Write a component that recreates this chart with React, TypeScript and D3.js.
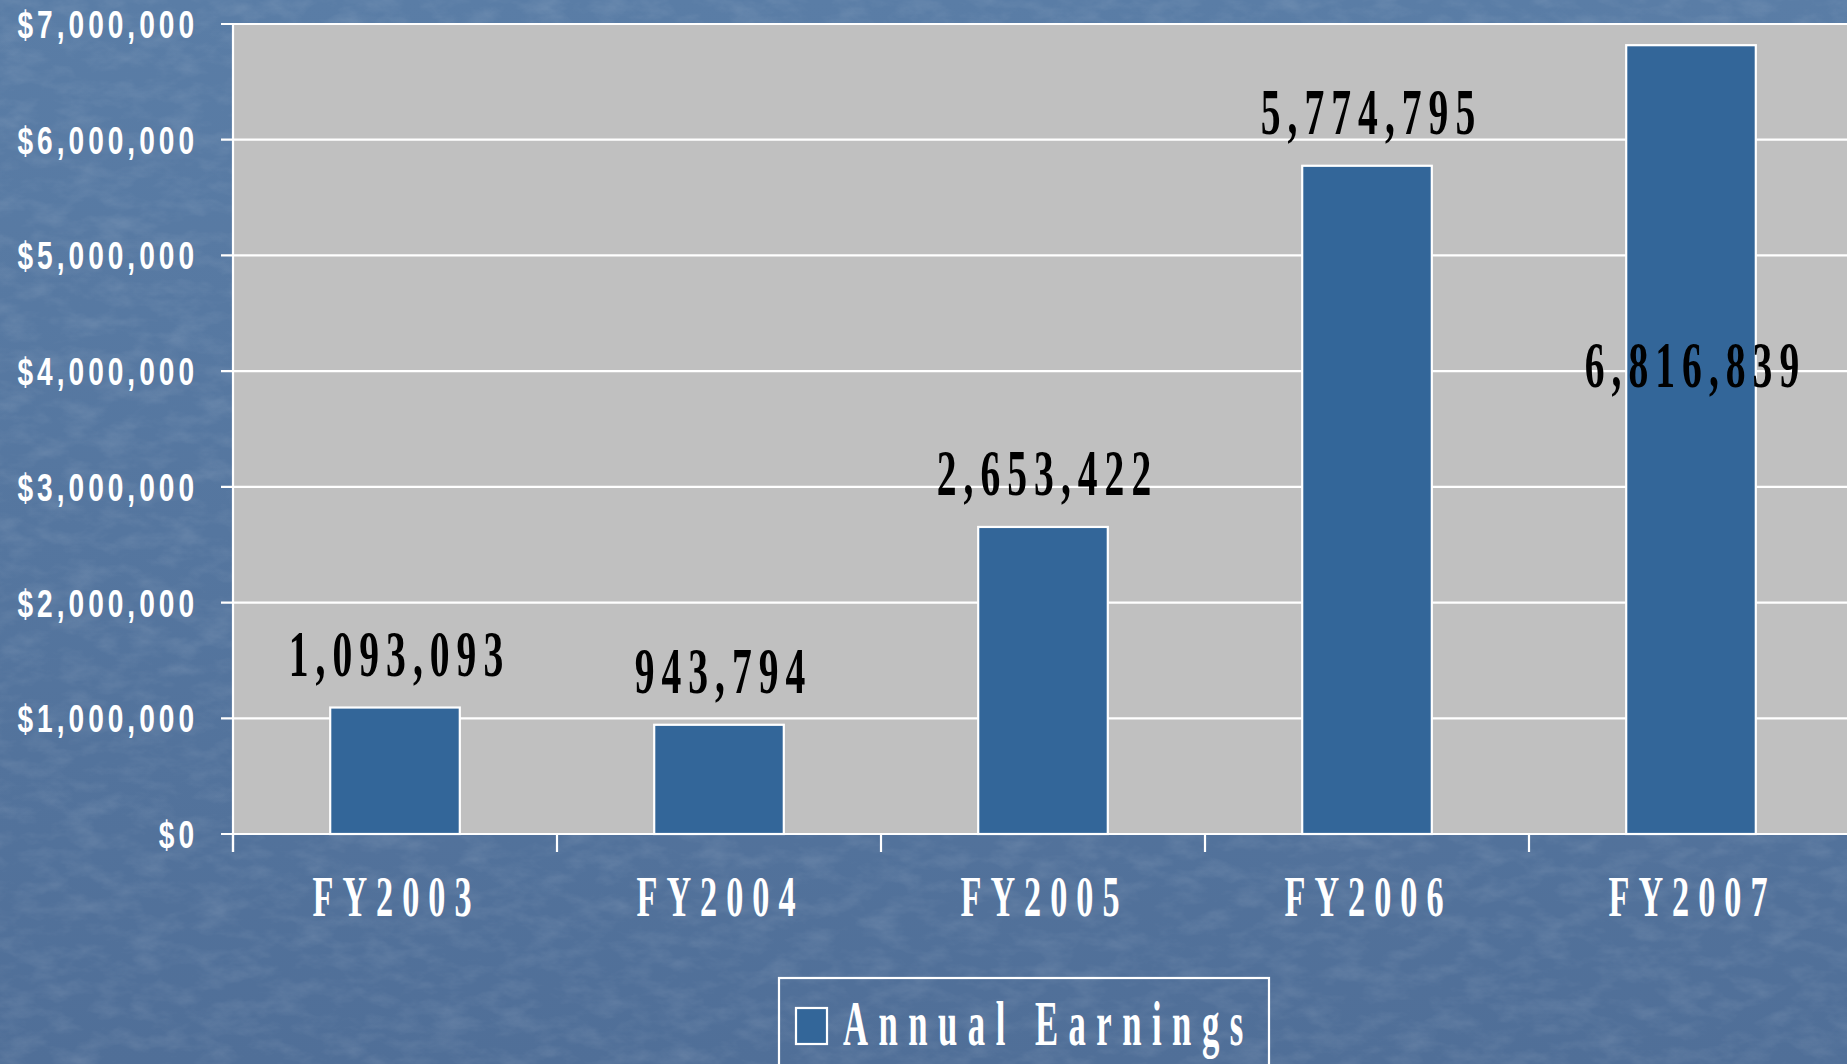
import React from "react";
import * as d3 from "d3";

const categories = ["FY2003", "FY2004", "FY2005", "FY2006", "FY2007"];
const earnings = [1093093, 943794, 2653422, 5774795, 6816839];
const yTicks = [0, 1000000, 2000000, 3000000, 4000000, 5000000, 6000000, 7000000];
const seriesName = "Annual Earnings";

const W = 1847;
const H = 1064;
const plotLeft = 233;
const plotTop = 24;
const plotBottom = 834;
const step = 324;

const BAR = "#336699";
const SERIF = "'Liberation Serif', 'Times New Roman', serif";
const SANS = "'Liberation Sans', Arial, sans-serif";

function CondText(props: {
  x: number; y: number; sx: number; ls: number; anchor?: string;
  size: number; family: string; fill: string; weight?: string; children: any;
}) {
  const { x, y, sx, ls, anchor = "start", size, family, fill, weight = "bold", children } = props;
  const lsPre = ls / sx;
  let dx = 0;
  if (anchor === "middle") dx = lsPre / 2;
  if (anchor === "end") dx = lsPre;
  return (
    <g transform={`translate(${x},${y}) scale(${sx},1)`}>
      <text
        x={dx}
        y={0}
        textAnchor={anchor}
        fontFamily={family}
        fontSize={size}
        fontWeight={weight}
        fill={fill}
        letterSpacing={lsPre}
      >
        {children}
      </text>
    </g>
  );
}

export default function App() {
  const x = d3
    .scaleBand<string>()
    .domain(categories)
    .range([plotLeft, plotLeft + step * categories.length])
    .padding(0);
  const y = d3.scaleLinear().domain([0, 7000000]).range([plotBottom, plotTop]);
  const fmtAxis = d3.format("$,");
  const fmtLabel = d3.format(",");
  const bw = x.bandwidth();
  const barW = bw * 0.4;

  return (
    <svg
      width={W}
      height={H}
      style={{ position: "absolute", left: 0, top: 0, display: "block" }}
    >
      <defs>
        <linearGradient id="bg" x1="0" y1="0" x2="0" y2="1">
          <stop offset="0" stopColor="#5a7da6" />
          <stop offset="1" stopColor="#506f98" />
        </linearGradient>
        <filter id="noise" x="0" y="0" width="100%" height="100%">
          <feTurbulence type="fractalNoise" baseFrequency="0.03 0.06" numOctaves="4" seed="7" />
          <feColorMatrix
            type="matrix"
            values="0 0 0 0 1  0 0 0 0 1  0 0 0 0 1  0.8 0 0 0 -0.33"
          />
        </filter>
      </defs>
      <rect x={0} y={0} width={W} height={H} fill="url(#bg)" />
      <rect x={0} y={0} width={W} height={H} filter="url(#noise)" opacity={0.25} />

      {/* plot area */}
      <rect
        x={plotLeft}
        y={plotTop}
        width={step * categories.length}
        height={plotBottom - plotTop}
        fill="#c0c0c0"
      />
      {/* gridlines */}
      {yTicks.map((t) => (
        <line
          key={"g" + t}
          x1={plotLeft - 12}
          x2={W + 10}
          y1={y(t)}
          y2={y(t)}
          stroke="#ffffff"
          strokeWidth={2.2}
        />
      ))}
      {/* y axis line */}
      <line x1={plotLeft} x2={plotLeft} y1={plotTop - 1} y2={plotBottom + 18} stroke="#ffffff" strokeWidth={2.2} />
      {/* x axis ticks */}
      {categories.map((c) => (
        <line
          key={"xt" + c}
          x1={x(c)!}
          x2={x(c)!}
          y1={plotBottom}
          y2={plotBottom + 18}
          stroke="#ffffff"
          strokeWidth={2.2}
        />
      ))}
      <line
        x1={plotLeft + step * categories.length}
        x2={plotLeft + step * categories.length}
        y1={plotBottom}
        y2={plotBottom + 18}
        stroke="#ffffff"
        strokeWidth={2.2}
      />

      {/* bars */}
      {categories.map((c, i) => (
        <rect
          key={"b" + c}
          x={x(c)! + (bw - barW) / 2}
          y={y(earnings[i])}
          width={barW}
          height={plotBottom - y(earnings[i])}
          fill={BAR}
          stroke="#ffffff"
          strokeWidth={2.2}
        />
      ))}

      {/* data labels */}
      {categories.map((c, i) => {
        const top = y(earnings[i]);
        const outside = top - 32 - 44 >= plotTop;
        const baseY = outside ? top - 32 : top + 342;
        return (
          <CondText
            key={"l" + c}
            x={x(c)! + bw / 2 + 1}
            y={baseY}
            sx={0.6}
            ls={7}
            anchor="middle"
            size={66}
            family={SERIF}
            fill="#000000"
          >
            {fmtLabel(earnings[i])}
          </CondText>
        );
      })}

      {/* y tick labels */}
      {yTicks.map((t) => (
        <CondText
          key={"yl" + t}
          x={194}
          y={y(t) + 14}
          sx={0.72}
          ls={4}
          anchor="end"
          size={39}
          family={SANS}
          fill="#ffffff"
        >
          {fmtAxis(t)}
        </CondText>
      ))}

      {/* x tick labels */}
      {categories.map((c) => (
        <CondText
          key={"xl" + c}
          x={x(c)! + bw / 2 - 3}
          y={916}
          sx={0.6}
          ls={9}
          anchor="middle"
          size={57}
          family={SERIF}
          fill="#ffffff"
        >
          {c}
        </CondText>
      ))}

      {/* legend */}
      <rect x={779} y={978} width={490} height={110} fill="none" stroke="#ffffff" strokeWidth={2.2} />
      <rect x={796} y={1008} width={31} height={36} fill={BAR} stroke="#ffffff" strokeWidth={2.2} />
      <CondText
        x={843}
        y={1045}
        sx={0.55}
        ls={10.5}
        anchor="start"
        size={63}
        family={SERIF}
        fill="#ffffff"
      >
        {seriesName}
      </CondText>
    </svg>
  );
}
